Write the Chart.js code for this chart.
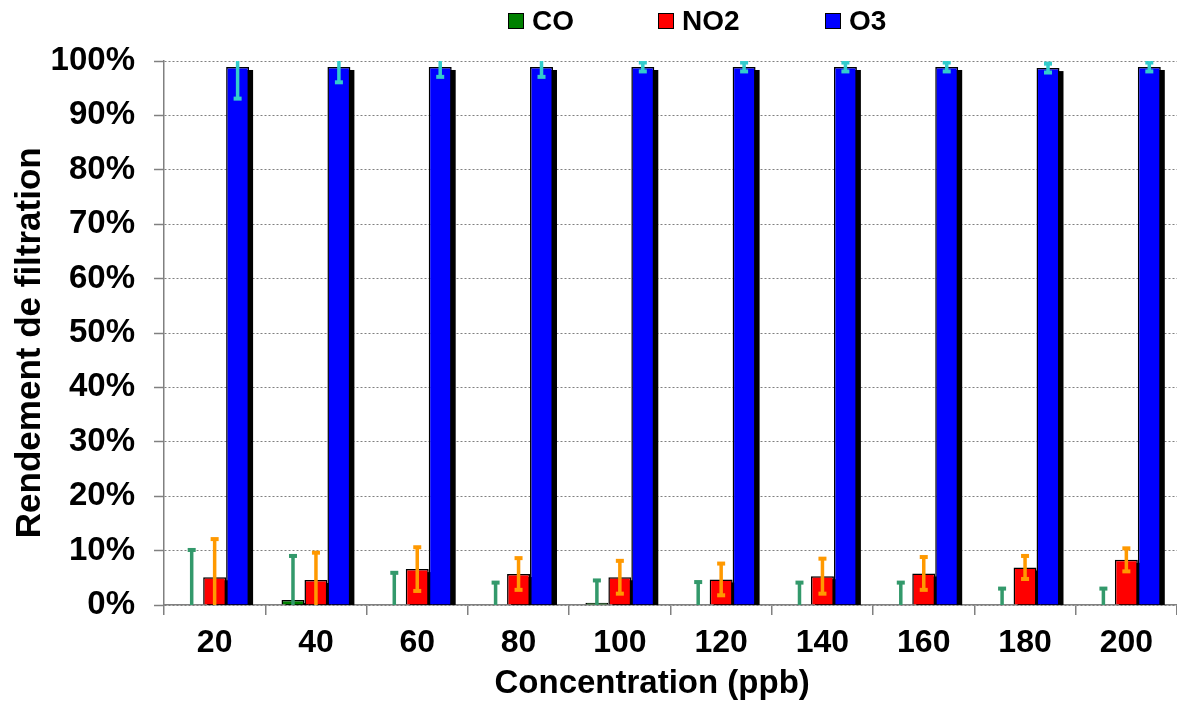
<!DOCTYPE html>
<html lang="fr">
<head>
<meta charset="utf-8">
<title>Rendement de filtration</title>
<script src="https://cdn.jsdelivr.net/npm/chart.js@4.4.1/dist/chart.umd.min.js"></script>
<style>
    body { margin: 0; background: #fff; }
    .wrap { position: relative; width: 1177px; height: 709px; }
    .legend { position: absolute; top: 0; left: 0; font-family: 'Liberation Sans', Arial, sans-serif; font-weight: bold; font-size: 28px; color: #000; }
    .legend .item { position: absolute; top: 5px; display: flex; align-items: center; white-space: nowrap; }
    .legend .box { width: 14px; height: 14px; border: 1px solid #000; margin-right: 8px; }
</style>
</head>
<body>
<div class="wrap">
    <canvas id="chart" width="1177" height="709"></canvas>
    <div class="legend" id="legend"></div>
</div>
<script>
// Data
const categories = ['20', '40', '60', '80', '100', '120', '140', '160', '180', '200'];
const seriesNames = ['CO', 'NO2', 'O3'];

const coValues = [0, 0.9, 0, 0, 0.4, 0, 0, 0, 0, 0];
const coErrors = [10.3, 8.3, 6.1, 4.3, 4.3, 4.4, 4.3, 4.3, 3.2, 3.2];

const no2Values = [5.1, 4.6, 6.6, 5.7, 5.1, 4.7, 5.3, 5.8, 6.9, 8.3];
const no2Errors = [7.2, 5.2, 4.2, 3.1, 3.2, 3.1, 3.4, 3.2, 2.3, 2.3];

const o3Values = [98.9, 98.9, 98.9, 98.9, 98.9, 98.9, 98.9, 98.9, 98.7, 98.9];
const o3Errors = [6, 3, 2, 2, 1, 1, 1, 1, 1, 1];

const yTicks = [0, 10, 20, 30, 40, 50, 60, 70, 80, 90, 100];

const fillColors = ['#008000', '#ff0000', '#0000ff'];
const errorColors = ['#33996b', '#ff9900', '#33cccc'];
const legendLeft = [508, 658, 825];

const FONT = "'Liberation Sans', Arial, sans-serif";

// black drop shadow behind each bar (offset right / down)
const barShadow = {
    id: 'barShadow',
    beforeDatasetsDraw(chart) {
        const { ctx, chartArea } = chart;
        ctx.save();
        ctx.beginPath();
        ctx.rect(chartArea.left, chartArea.top, chartArea.width, chartArea.height);
        ctx.clip();
        ctx.fillStyle = '#000';
        chart.data.datasets.forEach((ds, i) => {
            chart.getDatasetMeta(i).data.forEach(bar => {
                const { x, y, base, width } = bar.getProps(['x', 'y', 'base', 'width'], true);
                if (base - y < 0.5) return;
                ctx.fillRect(x - width / 2 + 4, y + 3, width, base - y);
            });
        });
        ctx.restore();
    }
};

// error bars with square caps
const errorBars = {
    id: 'errorBars',
    afterDatasetsDraw(chart) {
        const { ctx, chartArea } = chart;
        const yScale = chart.scales.y;
        ctx.save();
        ctx.beginPath();
        ctx.rect(chartArea.left, chartArea.top, chartArea.width, chartArea.height);
        ctx.clip();
        chart.data.datasets.forEach((ds, i) => {
            ctx.fillStyle = ds.errorColor;
            chart.getDatasetMeta(i).data.forEach((bar, j) => {
                const v = ds.data[j];
                const e = ds.errors[j];
                const yTop = yScale.getPixelForValue(v + e);
                const yBot = yScale.getPixelForValue(v - e);
                const x = bar.x;
                ctx.fillRect(x - 1.75, yTop, 3.5, yBot - yTop);
                ctx.fillRect(x - 4, yTop - 1, 8, 4);
                ctx.fillRect(x - 4, yBot - 3, 8, 4);
            });
        });
        ctx.restore();
    }
};

const datasets = [coValues, no2Values, o3Values].map((vals, i) => ({
    label: seriesNames[i],
    data: vals,
    errors: [coErrors, no2Errors, o3Errors][i],
    errorColor: errorColors[i],
    backgroundColor: fillColors[i],
    borderColor: '#000',
    borderWidth: 1.5,
    categoryPercentage: 0.68,
    barPercentage: 1.0
}));

// html legend
const legendEl = document.getElementById('legend');
seriesNames.forEach((name, i) => {
    const item = document.createElement('div');
    item.className = 'item';
    item.style.left = legendLeft[i] + 'px';
    item.innerHTML = `<span class="box" style="background:${fillColors[i]}"></span><span>${name}</span>`;
    legendEl.appendChild(item);
});

new Chart(document.getElementById('chart'), {
    type: 'bar',
    data: { labels: categories, datasets: datasets },
    plugins: [barShadow, errorBars],
    options: {
        responsive: false,
        animation: false,
        layout: { padding: { top: 61, right: 0, left: 0, bottom: 0 } },
        plugins: {
            legend: { display: false },
            tooltip: { enabled: false }
        },
        scales: {
            x: {
                grid: { offset: true, drawOnChartArea: false, drawTicks: true, tickLength: 10, color: '#808080', lineWidth: 1.5 },
                border: { color: '#808080', width: 1.5 },
                ticks: { color: '#000', padding: 9, font: { family: FONT, size: 32, weight: 'bold' } },
                title: {
                    display: true,
                    // trailing spaces nudge the centred title a little to the left, as in the original
                    text: 'Concentration (ppb)\u00a0\u00a0\u00a0\u00a0',
                    color: '#000',
                    padding: { top: 0, bottom: 5 },
                    font: { family: FONT, size: 33, weight: 'bold' }
                },
                afterFit: scale => { scale.height = 104; }
            },
            y: {
                min: 0,
                max: 100,
                afterBuildTicks: scale => { scale.ticks = yTicks.map(v => ({ value: v })); },
                grid: { color: '#808080', lineWidth: 1, tickLength: 10, tickColor: '#808080', tickWidth: 1.5 },
                border: { color: '#808080', width: 1.5, dash: [2, 2] },
                ticks: {
                    color: '#000',
                    padding: 19,
                    font: { family: FONT, size: 33, weight: 'bold' },
                    callback: v => v + '%'
                },
                title: {
                    display: true,
                    text: 'Rendement de filtration\u00a0\u00a0',
                    color: '#000',
                    padding: { top: 9, bottom: 0 },
                    font: { family: FONT, size: 35, weight: 'bold' }
                },
                afterFit: scale => { scale.width = 164; }
            }
        }
    }
});
</script>
</body>
</html>
